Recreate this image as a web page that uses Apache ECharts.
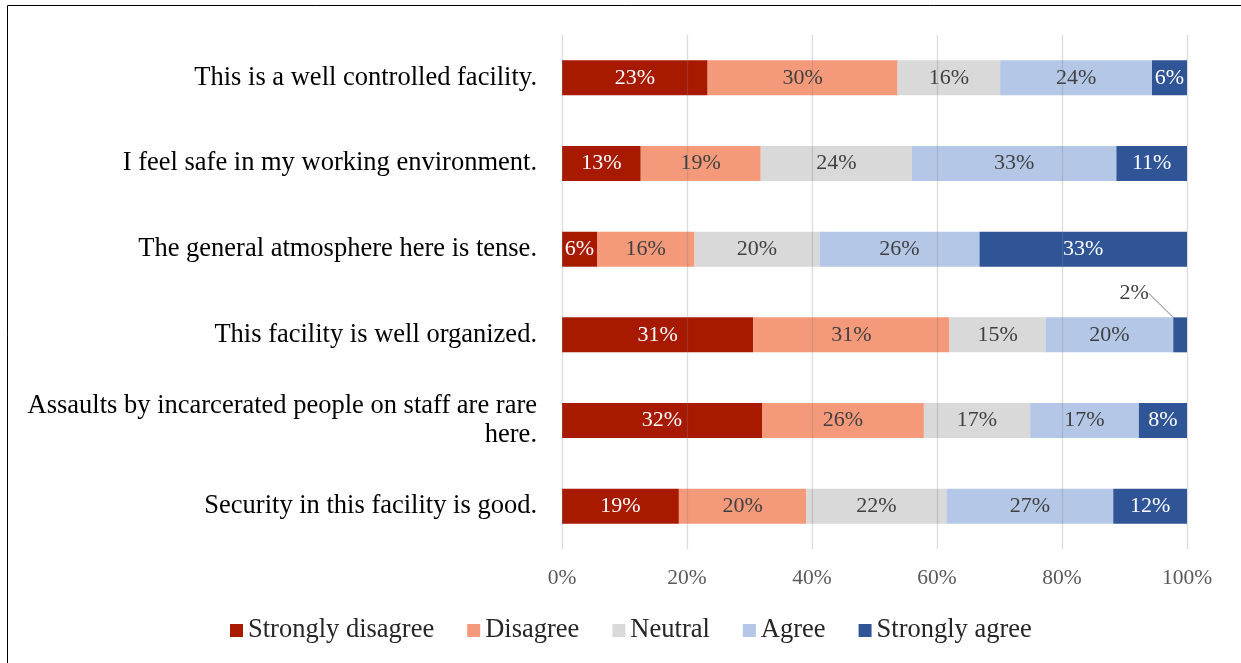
<!DOCTYPE html>
<html>
<head>
<meta charset="utf-8">
<title>Perceptions of safety and order in the facility</title>
<script src="https://cdn.jsdelivr.net/npm/echarts@6/dist/echarts.min.js"></script>
<style>
  html, body { margin: 0; padding: 0; background: #ffffff; }
  #chart { width: 1241px; height: 663px; }
</style>
</head>
<body>
<div id="chart"></div>
<script>
// Survey statements, top to bottom
const statements = [
  'This is a well controlled facility.',
  'I feel safe in my working environment.',
  'The general atmosphere here is tense.',
  'This facility is well organized.',
  'Assaults by incarcerated people on staff are rare here.',
  'Security in this facility is good.'
];

// Share of respondents (%) per response, one value per statement
const stronglyDisagree = [23.3, 12.6, 5.6, 30.6, 32.0, 18.7];
const disagree         = [30.4, 19.2, 15.6, 31.4, 25.9, 20.4];
const neutral          = [16.4, 24.2, 20.0, 15.4, 17.0, 22.4];
const agree            = [24.3, 32.7, 25.6, 20.4, 17.4, 26.7];
const stronglyAgree    = [5.6, 11.3, 33.2, 2.2, 7.7, 11.8];

const percentTicks = [0, 20, 40, 60, 80, 100];

const responses = [
  { name: 'Strongly disagree', values: stronglyDisagree, color: '#A81A00', text: '#ffffff' },
  { name: 'Disagree',          values: disagree,         color: '#F4997A', text: '#404040' },
  { name: 'Neutral',           values: neutral,          color: '#D9D9D9', text: '#404040' },
  { name: 'Agree',             values: agree,            color: '#B4C7E7', text: '#404040' },
  { name: 'Strongly agree',    values: stronglyAgree,    color: '#2F5597', text: '#ffffff' }
];

const serif = '"Liberation Serif", "Times New Roman", serif';
const chart = echarts.init(document.getElementById('chart'));

// Segments too thin for an inside label get theirs above the bar with a leader line
const thinLimit = 4;

const series = responses.map(function (r) {
  return {
    name: r.name,
    type: 'bar',
    stack: 'total',
    barWidth: 35,
    itemStyle: { color: r.color },
    emphasis: { disabled: true },
    data: r.values.map(function (v) {
      if (v < thinLimit) {
        return {
          value: v,
          label: { position: 'top', color: '#404040' },
          labelLine: { show: true, lineStyle: { color: '#a6a6a6', width: 1.2 } }
        };
      }
      return v;
    }),
    label: {
      show: true,
      position: 'inside',
      color: r.text,
      fontFamily: serif,
      fontSize: 22,
      formatter: function (p) { return Math.round(p.value) + '%'; }
    },
    labelLayout: function (p) {
      const v = r.values[p.dataIndex];
      if (v < thinLimit) {
        return { dx: -46, dy: -8 };
      }
      return {};
    }
  };
});

chart.setOption({
  backgroundColor: '#ffffff',
  animation: false,
  graphic: [{
    type: 'rect',
    shape: { x: 7.5, y: 5.5, width: 1240, height: 700 },
    style: { fill: 'none', stroke: '#000000', lineWidth: 1 },
    silent: true
  }],
  grid: { left: 562, right: 54, top: 35, height: 514, containLabel: false },
  legend: {
    data: responses.map(function (r) { return r.name; }),
    left: 225,
    top: 612,
    icon: 'rect',
    itemWidth: 13,
    itemHeight: 13,
    itemGap: 33,
    textStyle: { fontFamily: serif, fontSize: 26.5, color: '#262626' },
    selectedMode: false
  },
  xAxis: {
    type: 'value',
    min: percentTicks[0],
    max: percentTicks[percentTicks.length - 1],
    interval: percentTicks[1] - percentTicks[0],
    z: 5,
    axisLine: { show: false },
    axisTick: { show: false },
    axisLabel: {
      formatter: '{value}%',
      fontFamily: serif,
      fontSize: 21.5,
      color: '#595959',
      margin: 18
    },
    splitLine: { lineStyle: { color: 'rgba(128,128,128,0.28)', width: 1.3 } }
  },
  yAxis: {
    type: 'category',
    inverse: true,
    data: statements,
    axisLine: { show: false },
    axisTick: { show: false },
    axisLabel: {
      fontFamily: serif,
      fontSize: 26.5,
      color: '#000000',
      margin: 25,
      width: 515,
      overflow: 'break',
      lineHeight: 29,
      align: 'right'
    }
  },
  series: series
});
</script>
</body>
</html>
